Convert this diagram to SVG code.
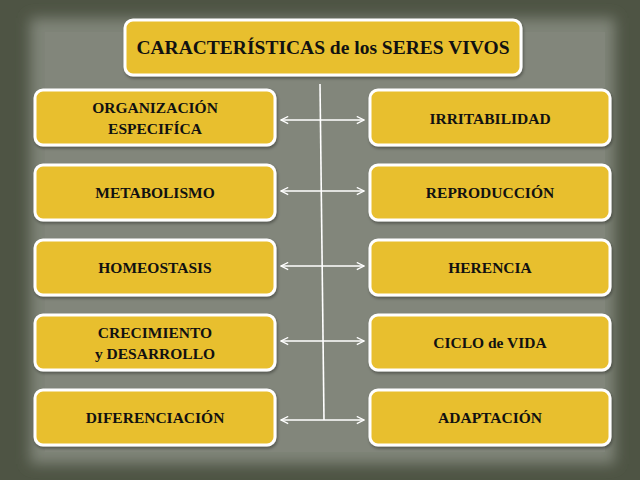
<svg xmlns="http://www.w3.org/2000/svg" width="640" height="480" viewBox="0 0 640 480">
<defs>
<filter id="blur" x="-10%" y="-10%" width="120%" height="120%"><feGaussianBlur stdDeviation="7"/></filter>
<filter id="sh" x="-10%" y="-20%" width="120%" height="150%"><feDropShadow dx="1" dy="2" stdDeviation="1.5" flood-color="#000" flood-opacity="0.35"/></filter>
<marker id="ah" viewBox="0 0 10 10" refX="9" refY="5" markerWidth="9" markerHeight="9" markerUnits="userSpaceOnUse" orient="auto-start-reverse">
<path d="M1,1 L9,5 L1,9" fill="none" stroke="#fff" stroke-width="1.4"/>
</marker>
</defs>
<style>
.box{fill:#e8bf2f;stroke:#fff;stroke-width:3;filter:url(#sh)}
.t{font-family:"Liberation Serif","Times New Roman",serif;font-weight:bold;font-size:15.5px;fill:#111;text-anchor:middle}
.title{font-size:19.5px}
.c{stroke:#fff;stroke-width:1.6;fill:none}
</style>
<rect width="640" height="480" fill="#4e5444"/>
<rect x="30" y="18" width="585" height="446" fill="#7f8478" filter="url(#blur)"/>
<rect x="45" y="32" width="560" height="420" fill="#82867b"/>
<g id="title"><rect class="box" x="125" y="20" width="396" height="55" rx="8"/><text class="t title" x="323" y="54">CARACTERÍSTICAS de los SERES VIVOS</text></g>
<g id="organizacion"><rect class="box" x="35" y="90" width="240" height="55" rx="8"/><text class="t" x="155" y="113">ORGANIZACIÓN</text><text class="t" x="155" y="134">ESPECIFÍCA</text></g>
<g id="metabolismo"><rect class="box" x="35" y="165" width="240" height="55" rx="8"/><text class="t" x="155" y="198">METABOLISMO</text></g>
<g id="homeostasis"><rect class="box" x="35" y="240" width="240" height="55" rx="8"/><text class="t" x="155" y="273">HOMEOSTASIS</text></g>
<g id="crecimiento"><rect class="box" x="35" y="315" width="240" height="55" rx="8"/><text class="t" x="155" y="338">CRECIMIENTO</text><text class="t" x="155" y="359">y DESARROLLO</text></g>
<g id="diferenciacion"><rect class="box" x="35" y="390" width="240" height="55" rx="8"/><text class="t" x="155" y="423">DIFERENCIACIÓN</text></g>
<g id="irritabilidad"><rect class="box" x="370" y="90" width="240" height="55" rx="8"/><text class="t" x="490" y="124">IRRITABILIDAD</text></g>
<g id="reproduccion"><rect class="box" x="370" y="165" width="240" height="55" rx="8"/><text class="t" x="490" y="198">REPRODUCCIÓN</text></g>
<g id="herencia"><rect class="box" x="370" y="240" width="240" height="55" rx="8"/><text class="t" x="490" y="273">HERENCIA</text></g>
<g id="ciclo"><rect class="box" x="370" y="315" width="240" height="55" rx="8"/><text class="t" x="490" y="348">CICLO de VIDA</text></g>
<g id="adaptacion"><rect class="box" x="370" y="390" width="240" height="55" rx="8"/><text class="t" x="490" y="423">ADAPTACIÓN</text></g>
<g id="connectors">
<line class="c" x1="320" y1="84" x2="324" y2="420"/>
<line class="c" x1="281" y1="120" x2="364" y2="120" marker-start="url(#ah)" marker-end="url(#ah)"/>
<line class="c" x1="281" y1="191" x2="364" y2="191" marker-start="url(#ah)" marker-end="url(#ah)"/>
<line class="c" x1="281" y1="266" x2="364" y2="266" marker-start="url(#ah)" marker-end="url(#ah)"/>
<line class="c" x1="281" y1="341" x2="364" y2="341" marker-start="url(#ah)" marker-end="url(#ah)"/>
<line class="c" x1="281" y1="420" x2="364" y2="420" marker-start="url(#ah)" marker-end="url(#ah)"/>
</g>
</svg>
